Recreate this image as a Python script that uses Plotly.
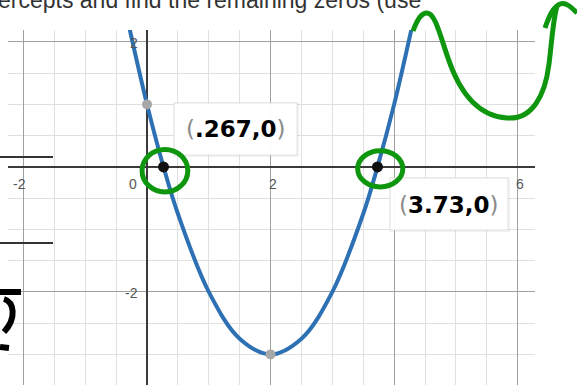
import plotly.graph_objects as go

# ---- data ----
curve_x = [-0.3, 0.0, 0.267, 0.5, 1.0, 1.5, 2.0, 2.5, 3.0, 3.5, 3.73, 4.0, 4.3]
curve_y = [2.29, 1.0, 0.0, -0.75, -2.0, -2.75, -3.0, -2.75, -2.0, -0.75, 0.0, 1.0, 2.29]

zero_x = [0.267, 3.73]
zero_y = [0, 0]
zero_labels = [".267,0", "3.73,0"]

marked_x = [0, 2]      # y-intercept and vertex
marked_y = [1, -3]

x_tick_vals = [-2, 0, 2, 6]
x_tick_text = ["-2", "0", "2", "6"]
y_tick_vals = [2, -2]
y_tick_text = ["2", "-2"]

header_text = "ercepts and find the remaining zeros (use"

# ---- page geometry (pixels) ----
W, H = 577, 385
L, R, T, B = 8, 42, 30, 0
PW, PH = W - L - R, H - T - B


def px(x, y):
    """pixel position -> paper fraction"""
    return (x - L) / PW, (H - B - y) / PH


def path_px(d):
    out, nums = [], []
    for tok in d.split():
        try:
            nums.append(float(tok))
            if len(nums) == 2:
                a, b = px(*nums)
                out.append(f"{a:.5f},{b:.5f}")
                nums = []
        except ValueError:
            out.append(tok)
    return " ".join(out)


GREEN = "#0e960e"
BLUE = "#2d70b3"

fig = go.Figure()

fig.add_trace(go.Scatter(
    x=curve_x, y=curve_y, mode="lines",
    line=dict(color=BLUE, width=4, shape="spline", smoothing=1.0),
    hoverinfo="skip"))

fig.add_trace(go.Scatter(
    x=marked_x, y=marked_y, mode="markers",
    marker=dict(color="#a8a8a8", size=10), hoverinfo="skip"))

fig.add_trace(go.Scatter(
    x=zero_x, y=zero_y, mode="markers",
    marker=dict(color="#111111", size=11), hoverinfo="skip"))

shapes = []

# label boxes beside the zeros
for (x0, y0, x1, y1) in [(174, 103, 297, 155), (390, 178, 508, 230)]:
    a0, b0 = px(x0 - 1, y1 + 2)
    a1, b1 = px(x1 + 2, y0 - 1)
    shapes.append(dict(type="rect", xref="paper", yref="paper",
                       x0=a0, y0=b0, x1=a1, y1=b1, layer="above",
                       fillcolor="rgba(0,0,0,0.05)", line=dict(width=0)))
    a0, b0 = px(x0, y1)
    a1, b1 = px(x1, y0)
    shapes.append(dict(type="rect", xref="paper", yref="paper",
                       x0=a0, y0=b0, x1=a1, y1=b1, layer="above",
                       fillcolor="rgba(255,255,255,0.95)",
                       line=dict(color="#e2e2e2", width=1)))

# green rings around the zeros
for (x0, y0, x1, y1) in [(-0.08, -0.40, 0.66, 0.28), (3.41, -0.32, 4.14, 0.26)]:
    shapes.append(dict(type="circle", xref="x", yref="y",
                       x0=x0, y0=y0, x1=x1, y1=y1, layer="above",
                       line=dict(color=GREEN, width=5)))

# green squiggle at top right
for d in ["M 413 31 C 417 20 421 13 427 13 C 435 13 440 35 448 58 "
          "C 458 88 475 116 507 118 C 532 120 545 96 549 64 "
          "C 552 40 553 20 557 6",
          "M 545 28 C 549 16 553 7 560 4 C 566 2 571 7 577 13"]:
    shapes.append(dict(type="path", xref="paper", yref="paper",
                       path=path_px(d), layer="above",
                       line=dict(color=GREEN, width=5)))

# ruled lines and ink at the left margin
for y in [157, 243]:
    a0, b0 = px(0, y)
    a1, b1 = px(53, y)
    shapes.append(dict(type="line", xref="paper", yref="paper",
                       x0=a0, y0=b0, x1=a1, y1=b1, layer="above",
                       line=dict(color="#333333", width=2)))
for d in ["M 0 292 L 21 292",
          "M 4 299 C 14 302 17 318 4 332",
          "M 0 347 L 9 348"]:
    shapes.append(dict(type="path", xref="paper", yref="paper",
                       path=path_px(d), layer="above",
                       line=dict(color="#000000", width=6)))

annotations = []

# axis numbers
for v, t in zip(x_tick_vals, x_tick_text):
    if v == 0:
        anchor, shift = "right", -8
    elif v < 0:
        anchor, shift = "center", -4
    else:
        anchor, shift = "center", 2
    annotations.append(dict(
        x=v, y=0, xref="x", yref="y", text=t, showarrow=False,
        xanchor=anchor, yanchor="middle", xshift=shift, yshift=-17,
        font=dict(family="Liberation Sans, Arial", size=14, color="#555555")))
for v, t in zip(y_tick_vals, y_tick_text):
    annotations.append(dict(
        x=0, y=v, xref="x", yref="y", text=t, showarrow=False,
        xanchor="right", yanchor="middle", xshift=-7, yshift=-1,
        font=dict(family="Liberation Sans, Arial", size=14, color="#555555")))

# coordinate labels
label_centres = [(235, 129), (448, 205)]
for (cx, cy), lab in zip(label_centres, zero_labels):
    a, b = px(cx, cy)
    annotations.append(dict(
        x=a, y=b, xref="paper", yref="paper", showarrow=False,
        xanchor="center", yanchor="middle",
        text=('<span style="color:#8a8a8a;font-weight:normal">(</span>'
              f'<b>{lab}</b>'
              '<span style="color:#8a8a8a;font-weight:normal">)</span>'),
        font=dict(family="DejaVu Sans", size=23, color="#000000")))

# header line of the worksheet
a, b = px(-4, 15)
annotations.append(dict(
    x=a, y=b, xref="paper", yref="paper", showarrow=False,
    xanchor="left", yanchor="bottom", text=header_text,
    font=dict(family="Liberation Sans, Arial", size=23, color="#333333")))

axis_common = dict(showticklabels=False, ticks="", showline=False,
                   zeroline=True, zerolinecolor="#3a3a3a", zerolinewidth=1.6,
                   showgrid=True, gridcolor="#a0a0a0", gridwidth=1,
                   tick0=0, dtick=2,
                   minor=dict(showgrid=True, dtick=0.5, gridcolor="#e0e0e0",
                              gridwidth=1),
                   fixedrange=True)

fig.update_layout(
    width=W, height=H,
    margin=dict(l=L, r=R, t=T, b=B),
    paper_bgcolor="white", plot_bgcolor="white",
    showlegend=False,
    xaxis=dict(range=[-2.25, 6.28], **axis_common),
    yaxis=dict(range=[-3.49, 2.19], **axis_common),
    shapes=shapes, annotations=annotations)

fig.write_html("out.html")
